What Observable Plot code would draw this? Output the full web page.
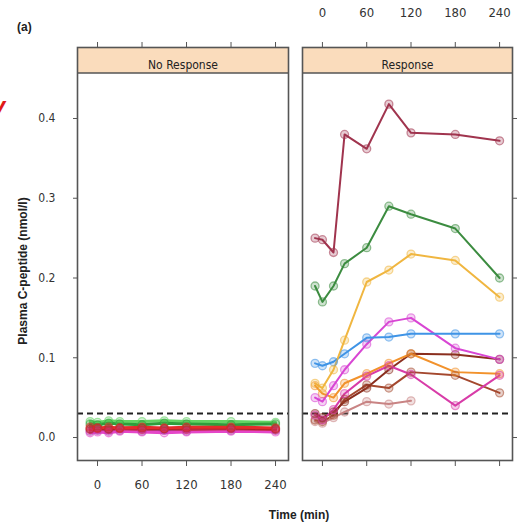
<!DOCTYPE html>
<html>
<head>
<meta charset="utf-8">
<script src="https://cdn.jsdelivr.net/npm/d3@7"></script>
<script src="https://cdn.jsdelivr.net/npm/@observablehq/plot@0.6"></script>
<style>
  body { margin: 0; background: #fff; }
  #fig { position: relative; width: 517px; height: 525px; overflow: hidden;
         font-family: "Liberation Sans Narrow", "DejaVu Sans Condensed", "Liberation Sans", sans-serif; }
  .lbl { position: absolute; font-family: "Liberation Sans", Arial, sans-serif; font-weight: bold;
         font-size: 12px; color: #222; white-space: nowrap; line-height: 1; }
</style>
</head>
<body>
<div id="fig"></div>
<script>
// Sampling times of the meal test (min)
const times = [-10, 0, 15, 30, 60, 90, 120, 180, 240];
const timeTicks = [0, 60, 120, 180, 240];
const valueTicks = [0, 0.1, 0.2, 0.3, 0.4];
const detectionLimit = 0.03; // nmol/l
const panelNames = ["No Response", "Response"];

// No Response group: C-peptide stays below the detection limit
const nrGreenLight = [0.020, 0.019, 0.021, 0.020, 0.020, 0.021, 0.020, 0.020, 0.019];
const nrGreen      = [0.017, 0.016, 0.018, 0.017, 0.016, 0.018, 0.017, 0.016, 0.017];
const nrPurple     = [0.008, 0.009, 0.008, 0.009, 0.008, 0.009, 0.008, 0.009, 0.009];
const nrMagenta    = [0.006, 0.007, 0.006, 0.008, 0.007, 0.006, 0.007, 0.008, 0.007];
const nrCrimson    = [0.010, 0.011, 0.010, 0.011, 0.010, 0.011, 0.010, 0.011, 0.010];
const nrDarkRed    = [0.011, 0.012, 0.011, 0.012, 0.012, 0.011, 0.012, 0.012, 0.011];
const nrRed        = [0.013, 0.012, 0.013, 0.012, 0.013, 0.012, 0.013, 0.013, 0.012];

// Response group
const respMaroon    = [0.250, 0.248, 0.232, 0.380, 0.362, 0.418, 0.382, 0.380, 0.372];
const respGreen     = [0.190, 0.170, 0.190, 0.218, 0.238, 0.290, 0.280, 0.262, 0.200];
const respGold      = [0.068, 0.062, 0.085, 0.122, 0.195, 0.210, 0.230, 0.222, 0.176];
const respBlue      = [0.093, 0.090, 0.095, 0.105, 0.125, 0.126, 0.130, 0.130, 0.130];
const respMagenta   = [0.050, 0.045, 0.065, 0.085, 0.117, 0.145, 0.150, 0.112, 0.098];
const respOrange    = [0.065, 0.055, 0.050, 0.068, 0.080, 0.093, 0.105, 0.082, 0.080];
const respBrownDark = [0.030, 0.025, 0.032, 0.045, 0.062, 0.085, 0.105, 0.104, 0.098];
const respBrown     = [0.022, 0.020, 0.028, 0.048, 0.066, 0.062, 0.082, 0.078, 0.056];
const respRose      = [0.020, 0.018, 0.025, 0.032, 0.045, 0.042, 0.046, null, null];
const respPinkZig   = [0.028, 0.022, 0.035, 0.055, 0.077, 0.090, 0.079, 0.040, 0.078];

const noResponseSeries = [nrGreenLight, nrGreen, nrPurple, nrMagenta, nrCrimson, nrDarkRed, nrRed];
const responseSeries = [respRose, respBrown, respBrownDark, respOrange, respPinkZig, respMagenta,
                        respBlue, respGold, respGreen, respMaroon];

// Line colours, one per subject
const noResponseColors = ["#63d463", "#2f9e3c", "#9b3fa8", "#e446c8", "#cc2c55", "#a82424", "#e52b2b"];
const responseColors = ["#c98484", "#a4482e", "#8a2e1e", "#f2922c", "#d83ca8", "#d846d4",
                        "#3f94e6", "#f0b640", "#3c8c40", "#a0344e"];

function toRows(series, colors) {
  return series.flatMap((vals, i) =>
    vals.map((v, j) => ({id: i, time: times[j], value: v, color: colors[i]}))
        .filter(d => d.value != null));
}

const STRIP_H = 26;
const fontFam = '"Liberation Sans Narrow", "DejaVu Sans Condensed", "Liberation Sans", sans-serif';

// Lattice-style strip above each panel
function stripMark(index, scales, values, dims) {
  const g = d3.create("svg:g");
  const x0 = dims.marginLeft, x1 = dims.width - dims.marginRight, y0 = dims.marginTop;
  g.append("rect").attr("x", x0).attr("y", y0).attr("width", x1 - x0).attr("height", STRIP_H)
    .attr("fill", "#fadcbc");
  g.append("line").attr("x1", x0).attr("x2", x1).attr("y1", y0 + STRIP_H).attr("y2", y0 + STRIP_H)
    .attr("stroke", "#555").attr("stroke-width", 1.6);
  return g.node();
}

function panel({name, rows, width, marginLeft, marginRight, left, lineWidth,
                yLabels, yAnchor, xTopLabels, xBottomLabels}) {
  const blank = () => "";
  const chart = Plot.plot({
    width, height: 525,
    marginTop: 47, marginBottom: 65, marginLeft, marginRight,
    x: {domain: [-27, 257.5]},
    y: {domain: [-0.0288, 0.489]},
    color: {type: "identity"},
    style: {fontFamily: fontFam, fontSize: "12px", background: "transparent", color: "#333", overflow: "visible"},
    marks: [
      stripMark,
      Plot.ruleY([detectionLimit], {stroke: "#222", strokeWidth: 2, strokeDasharray: "6,4"}),
      Plot.line(rows, {x: "time", y: "value", z: "id", stroke: "color", strokeWidth: lineWidth}),
      Plot.dot(rows, {x: "time", y: "value", r: 4, stroke: "color", fill: "color",
                      fillOpacity: 0.25, strokeOpacity: 0.55, strokeWidth: 1.3}),
      Plot.frame({stroke: "#555", strokeWidth: 1.6}),
      Plot.text([name], {text: d => d, frameAnchor: "top", dy: STRIP_H / 2, fontSize: 12, fill: "#222"}),
      Plot.axisX(timeTicks, {anchor: "bottom", tickSize: 6, tickPadding: 13, label: null, fontSize: 13,
                             stroke: "#555", tickFormat: xBottomLabels ? d => String(d) : blank}),
      Plot.axisX(timeTicks, {anchor: "top", tickSize: 6, tickPadding: 25, label: null, fontSize: 13,
                             stroke: "#555", tickFormat: xTopLabels ? d => String(d) : blank}),
      Plot.axisY(valueTicks, {anchor: yAnchor, tickSize: yLabels ? 4 : 5, tickPadding: 18, label: null,
                              stroke: "#555", tickFormat: yLabels ? d3.format(".1f") : blank})
    ]
  });
  Object.assign(chart.style, {position: "absolute", top: "0px", left: left + "px", maxWidth: "none"});
  return chart;
}

const fig = document.getElementById("fig");
fig.append(panel({
  name: panelNames[0], rows: toRows(noResponseSeries, noResponseColors),
  width: 295, marginLeft: 77, marginRight: 7, left: 0, lineWidth: 3,
  yLabels: true, yAnchor: "left", xTopLabels: false, xBottomLabels: true
}));
fig.append(panel({
  name: panelNames[1], rows: toRows(responseSeries, responseColors),
  width: 222, marginLeft: 7, marginRight: 5, left: 295, lineWidth: 2,
  yLabels: false, yAnchor: "right", xTopLabels: true, xBottomLabels: false
}));

function addLabel(text, css) {
  const el = document.createElement("div");
  el.className = "lbl";
  el.textContent = text;
  Object.assign(el.style, css);
  fig.append(el);
  return el;
}
addLabel("(a)", {left: "17px", top: "21px"});
addLabel("Time (min)", {left: "299px", top: "509px", transform: "translateX(-50%)"});
addLabel("Plasma C-peptide (nmol/l)", {left: "23px", top: "271px",
  transform: "translate(-50%, -50%) rotate(-90deg)"});
addLabel("v", {left: "-8px", top: "94px", color: "#e01818", fontSize: "24px", fontStyle: "italic"});
</script>
</body>
</html>
